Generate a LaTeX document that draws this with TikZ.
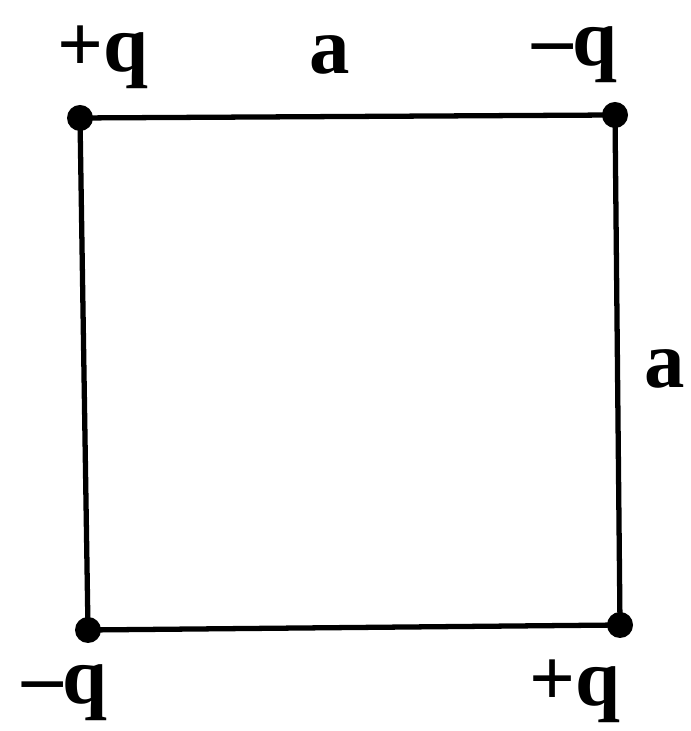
\documentclass[tikz,border=0pt]{standalone}
\usepackage{fontspec}
\setmainfont{Liberation Serif}
\tikzset{
    Charge/.style = {fill,circle,inner sep=0pt,minimum size=0.26cm},
    Label/.style = {font=\fontsize{23}{28}\selectfont\bfseries,inner sep=0pt}
}
\begin{document}
\begin{tikzpicture}
        \useasboundingbox (0,0) rectangle (6.9,7.31);
        \node[Charge] (TL) at (0.80,6.13) {};
        \node[Charge] (TR) at (6.15,6.16) {};
        \node[Charge] (BL) at (0.88,1.01) {};
        \node[Charge] (BR) at (6.20,1.06) {};
        \draw[line width=1.5pt] (TL.center) -- (TR.center) -- (BR.center) -- (BL.center) -- cycle;
        \node[Label] (qTL) at (1.03,6.74) {+q};
        \node[Label] (qTR) at (5.75,6.76) {\textendash q};
        \node[Label] (qBL) at (0.65,0.38) {\textendash q};
        \node[Label] (qBR) at (5.75,0.40) {+q};
        \node[Label] (aT) at (3.30,6.76) {a};
        \node[Label] (aR) at (6.65,3.62) {a};
\end{tikzpicture}
\end{document}
